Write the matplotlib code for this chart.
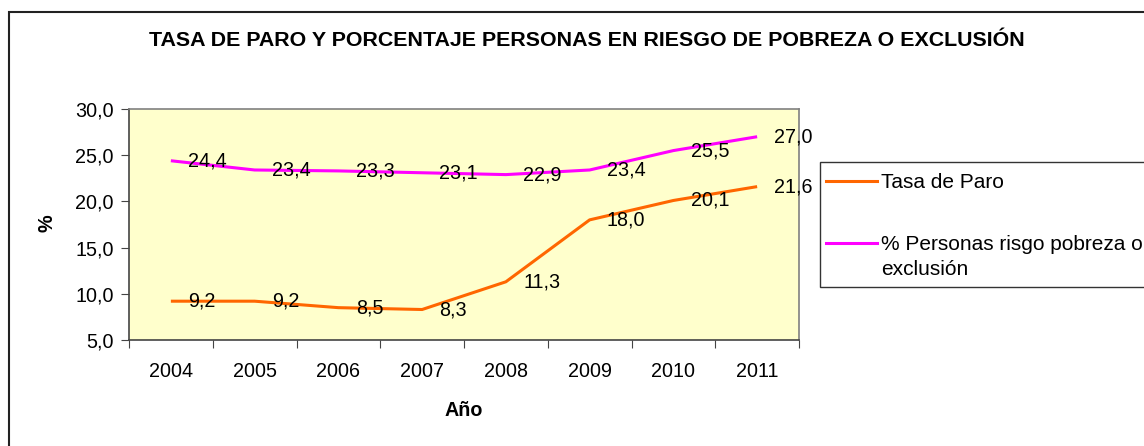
"""
Tasa de paro y porcentaje de personas en riesgo de pobreza o exclusión, 2004-2011.
"""

import numpy as np
import matplotlib.pyplot as plt
from matplotlib.patches import Rectangle
from matplotlib.lines import Line2D

plt.rcParams['font.family'] = ['Liberation Sans', 'DejaVu Sans']

# ============================================================
# DATA
# ============================================================
years   = ['2004', '2005', '2006', '2007', '2008', '2009', '2010', '2011']
paro    = [9.2, 9.2, 8.5, 8.3, 11.3, 18.0, 20.1, 21.6]
pobreza = [24.4, 23.4, 23.3, 23.1, 22.9, 23.4, 25.5, 27.0]

series_labels = ['Tasa de Paro', '% Personas risgo pobreza o\nexclusión']
series_colors = ['#FF6600', '#FF00FF']

TITLE  = 'TASA DE PARO Y PORCENTAJE PERSONAS EN RIESGO DE POBREZA O EXCLUSIÓN'
XLABEL = 'Año'
YLABEL = '%'

W, H = 1144, 446
FS = 14.2


def fmt(v):
    return f'{v:.1f}'.replace('.', ',')


fig = plt.figure(figsize=(W / 100, H / 100), dpi=100)
ax = fig.add_axes([129 / W, 1 - 340 / H, (799 - 129) / W, (340 - 109) / H])
ax.set_facecolor('#FFFFCC')

x = np.arange(len(years))
for vals, color in zip([paro, pobreza], series_colors):
    ax.plot(x, vals, color=color, linewidth=2.2, solid_capstyle='butt', zorder=3)
    for xi, v in zip(x, vals):
        ax.annotate(fmt(v), (xi, v), xytext=(12.5, 0), textcoords='offset points',
                    ha='left', va='center', fontsize=FS, color='black', zorder=4)

ax.set_xlim(-0.5, len(years) - 0.5)
ax.set_ylim(5, 30)
yt = np.arange(5, 31, 5)
ax.set_yticks(yt)
ax.set_yticklabels([fmt(v) for v in yt], fontsize=FS)
ax.set_xticks(np.arange(-0.5, len(years), 1.0))
ax.set_xticklabels([])
ax.set_xticks(x, minor=True)
ax.set_xticklabels(years, minor=True, fontsize=FS)
ax.tick_params(axis='x', which='minor', length=0, pad=15.5)
ax.tick_params(axis='x', which='major', length=6, direction='out', color='#444444')
ax.tick_params(axis='y', length=6, direction='out', color='#444444', pad=5)
for s in ax.spines.values():
    s.set_color('#808080')
    s.set_linewidth(1.2)
ax.spines['bottom'].set_color('#444444')
ax.spines['left'].set_color('#444444')

ax.set_xlabel(XLABEL, fontsize=FS, fontweight='bold', va='center')
ax.xaxis.set_label_coords((464 - 129) / (799 - 129), -(410 - 340) / (340 - 109))
ax.set_ylabel(YLABEL, fontsize=FS, fontweight='bold', va='center')
ax.yaxis.set_label_coords(-(129 - 47) / (799 - 129), (340 - 223) / (340 - 109))

fig.text(587 / W, 1 - 40 / H, TITLE, ha='center', va='center',
         fontsize=15.4, fontweight='bold')

# figure border (only left and top visible in the original crop)
fig.add_artist(Rectangle((9 / W, -0.1), 1.2, 1 - 12 / H + 0.1, transform=fig.transFigure,
                         fill=False, edgecolor='#222222', linewidth=1.5))

# legend box, clipped on the right like the original
fig.add_artist(Rectangle((820 / W, 1 - 287 / H), 400 / W, 125 / H, transform=fig.transFigure,
                         facecolor='white', edgecolor='#333333', linewidth=1.0))
for lbl, color, ly in zip(series_labels, series_colors, [181, 243]):
    fig.add_artist(Line2D([826 / W, 877 / W], [1 - ly / H, 1 - ly / H], transform=fig.transFigure,
                          color=color, linewidth=2.2))
    fig.text(881 / W, 1 - (ly - 8) / H, lbl, ha='left', va='top', fontsize=15,
             linespacing=1.4)

plt.savefig('out.png', dpi=100)
